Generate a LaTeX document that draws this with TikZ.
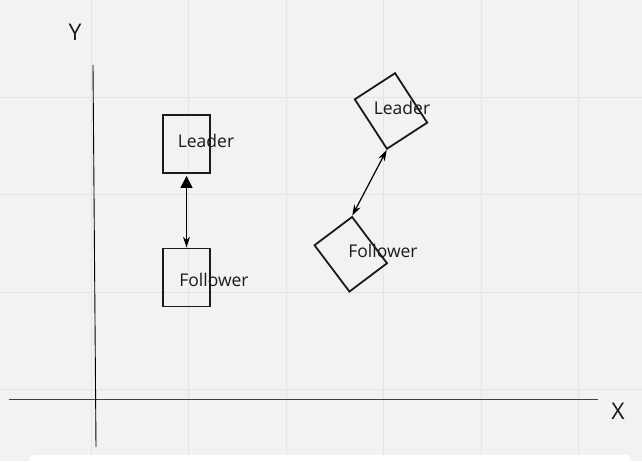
\documentclass[tikz,border=0pt]{standalone}
\usepackage{fontspec}
\setmainfont{Open Sans}
\usepackage{tikz}
\usetikzlibrary{arrows.meta, positioning, calc}

\definecolor{canvasbg}{HTML}{F2F2F2}
\definecolor{gridline}{HTML}{E4E4E4}
\definecolor{inkdark}{HTML}{1A1A1A}

\begin{document}
\begin{tikzpicture}[
    x=1pt, y=-1pt,
    robot/.style={rectangle, draw=inkdark, line width=1.8pt, minimum width=47pt, minimum height=58pt, inner sep=0pt},
    tag/.style={font=\fontsize{17.5}{20}\selectfont, text=inkdark, inner sep=0pt},
    axislabel/.style={font=\fontsize{23}{26}\selectfont, text=inkdark, inner sep=0pt},
    axis/.style={line width=0.9pt},
    link/.style={line width=1.2pt, draw=black},
]
\useasboundingbox (0,0) rectangle (642,461);
\fill[canvasbg] (0,0) rectangle (642,461);
\foreach \gx in {91,188.5,286,383.5,481,578.5}
    \draw[gridline, line width=0.8pt] (\gx,0) -- (\gx,461);
\foreach \gy in {97,194.5,292,389.5}
    \draw[gridline, line width=0.8pt] (0,\gy) -- (642,\gy);
\fill[white, rounded corners=3pt] (30,455) rectangle (630,466);

\coordinate (xstart) at (9,399);
\coordinate (xend) at (598,399);
\coordinate (ytop) at (93,65);
\coordinate (ybottom) at (96,447);
\draw[axis, draw=black!75] (xstart) -- (xend);
\draw[axis, draw=black] (ytop) -- (ybottom);
\node[axislabel] (ylabel) at (75,32) {Y};
\node[axislabel] (xlabel) at (618,411) {X};

\node[robot] (lleader) at (186.5,144) {};
\node[robot] (lfollower) at (186.5,277.5) {};
\node[tag] (lleadertag) at (206,140.5) {Leader};
\node[tag] (lfollowertag) at (214,279.5) {Follower};

\node[robot, minimum width=48pt, minimum height=59pt, rotate=33] (rleader) at (391,111) {};
\node[robot, rotate=37] (rfollower) at (350.75,254.25) {};
\node[tag] (rleadertag) at (402,108) {Leader};
\node[tag] (rfollowertag) at (383,251) {Follower};

\draw[link, {Triangle[length=12pt,width=12pt]}-{Stealth[length=11pt,width=7pt]}] ([yshift=-2pt]lleader.south) -- (lfollower.north);
\draw[link, {Stealth[length=11pt,width=7pt]}-{Stealth[length=11pt,width=7pt]}] (rleader.south west) -- (rfollower.north east);
\end{tikzpicture}
\end{document}
